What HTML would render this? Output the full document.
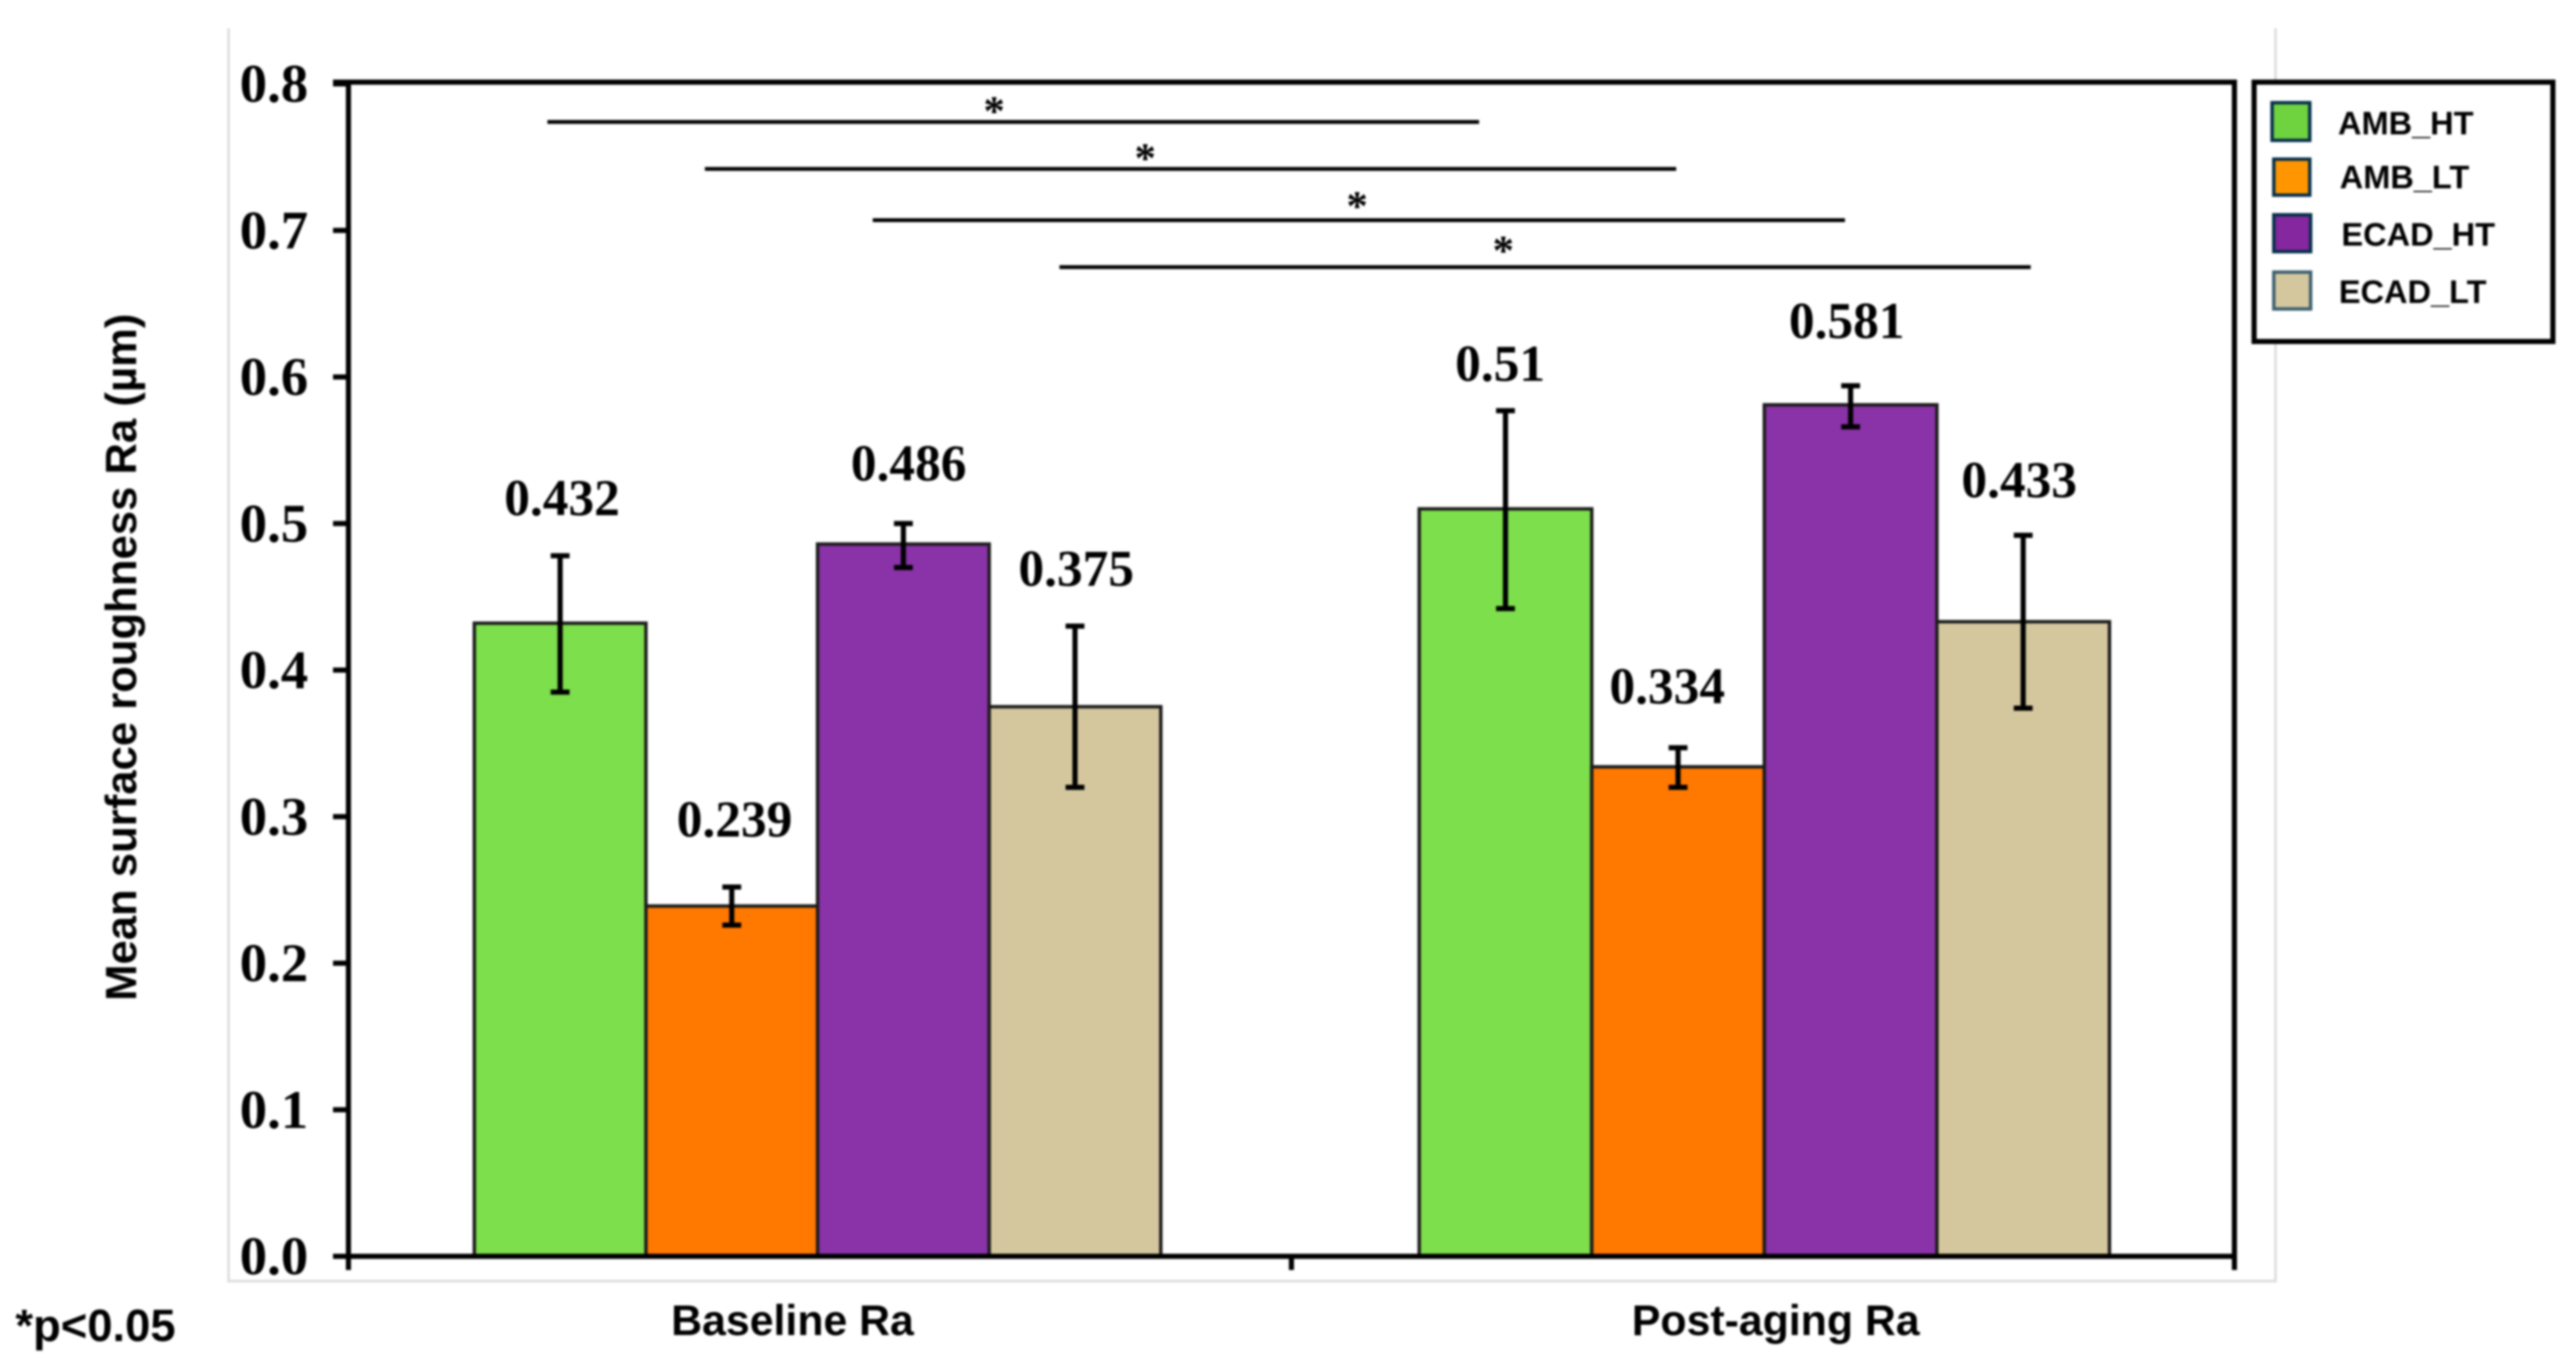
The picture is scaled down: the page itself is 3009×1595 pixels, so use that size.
<!DOCTYPE html>
<html>
<head>
<meta charset="utf-8">
<title>Mean surface roughness</title>
<style>
html,body{margin:0;padding:0;background:#fff;width:3009px;height:1595px;overflow:hidden}
svg{display:block;filter:blur(1.2px)}
</style>
</head>
<body>
<svg id="chart" xmlns="http://www.w3.org/2000/svg" width="3009" height="1595" viewBox="0 0 3009 1595">
  <rect x="0" y="0" width="3009" height="1595" fill="#ffffff"/>
  <path d="M267 33V1497H2658V33" fill="none" stroke="#dcdcdc" stroke-width="3"/>
  <g id="marks"></g>
  <text transform="translate(159,768) rotate(-90)" text-anchor="middle" font-family="Liberation Sans, sans-serif" font-weight="700" font-size="51" fill="#000">Mean surface roughness Ra (µm)</text>
  <text x="18" y="1567" font-family="Liberation Sans, sans-serif" font-weight="700" font-size="53" fill="#000">*p&lt;0.05</text>
  <g>
    <rect x="2633" y="96" width="349" height="303" fill="#fff" stroke="#000" stroke-width="6"/>
    <rect x="2654" y="120" width="44" height="44" fill="#6FD23F" stroke="#06304a" stroke-width="4"/>
    <text x="2731" y="157" font-family="Liberation Sans, sans-serif" font-weight="700" font-size="38" fill="#000">AMB_HT</text>
    <rect x="2656" y="186" width="42" height="42" fill="#FF9500" stroke="#06304a" stroke-width="4"/>
    <text x="2733" y="220" font-family="Liberation Sans, sans-serif" font-weight="700" font-size="38" fill="#000">AMB_LT</text>
    <rect x="2656" y="251" width="43" height="43" fill="#85279F" stroke="#06304a" stroke-width="4"/>
    <text x="2735" y="287" font-family="Liberation Sans, sans-serif" font-weight="700" font-size="38" fill="#000">ECAD_HT</text>
    <rect x="2656" y="318" width="43" height="43" fill="#D4C79E" stroke="#3f6070" stroke-width="4"/>
    <text x="2732" y="354" font-family="Liberation Sans, sans-serif" font-weight="700" font-size="38" fill="#000">ECAD_LT</text>
  </g>
</svg>
<script>
const categories = ['Baseline Ra', 'Post-aging Ra'];
const seriesNames = ['AMB_HT', 'AMB_LT', 'ECAD_HT', 'ECAD_LT'];
const ambHt = [0.432, 0.51];
const ambLt = [0.239, 0.334];
const ecadHt = [0.486, 0.581];
const ecadLt = [0.375, 0.433];
const ambHtErrTop = [0.478, 0.577];
const ambHtErrBottom = [0.385, 0.442];
const ambLtErrTop = [0.252, 0.347];
const ambLtErrBottom = [0.226, 0.320];
const ecadHtErrTop = [0.500, 0.594];
const ecadHtErrBottom = [0.470, 0.566];
const ecadLtErrTop = [0.430, 0.492];
const ecadLtErrBottom = [0.320, 0.374];
const valueLabels = [['0.432', '0.51'], ['0.239', '0.334'], ['0.486', '0.581'], ['0.375', '0.433']];
const labelLevels = [[0.5057, 0.5975], [0.2864, 0.3771], [0.5292, 0.6266], [0.4576, 0.518]];
const labelAnchors = [[0.2265, 1.2213], [0.4094, 1.3986], [0.5941, 1.5889], [0.7718, 1.7718]];
const yTicks = ['0.0', '0.1', '0.2', '0.3', '0.4', '0.5', '0.6', '0.7', '0.8'];
const sigLevels = [0.774, 0.742, 0.707, 0.675];
const sigStarts = [0.211, 0.378, 0.556, 0.754];
const sigEnds = [1.199, 1.408, 1.587, 1.784];
const sigStarMid = [0.6847, 0.845, 1.0697, 1.2247];
const sigStarLevels = [0.783, 0.751, 0.7183, 0.688];

const seriesValues = [ambHt, ambLt, ecadHt, ecadLt];
const seriesTops = [ambHtErrTop, ambLtErrTop, ecadHtErrTop, ecadLtErrTop];
const seriesBottoms = [ambHtErrBottom, ambLtErrBottom, ecadHtErrBottom, ecadLtErrBottom];
const barFills = ['#7DDF4C', '#FF7800', '#8A32A8', '#D4C79E'];
const categoryLabelShift = [-32, 15];
const groupCenters = [0.4975, 1.5015];
const groupBarUnits = [0.182, 0.183];

const plotLeft = 407, plotRight = 2610, plotTop = 98, plotBottom = 1468, frameTop = 96;
const yScale = v => plotBottom - v * (plotBottom - plotTop) / 0.8;
const xScale = u => plotLeft + u * (plotRight - plotLeft) / 2;
const NS = 'http://www.w3.org/2000/svg';
const marks = document.getElementById('marks');

function make(tag, attrs, text) {
  const el = document.createElementNS(NS, tag);
  for (const k in attrs) el.setAttribute(k, attrs[k]);
  if (text !== undefined) el.textContent = text;
  marks.appendChild(el);
  return el;
}
const serif = 'Liberation Serif, serif';
const sans = 'Liberation Sans, sans-serif';

categories.forEach((cat, c) => {
  const barUnits = groupBarUnits[c];
  seriesNames.forEach((name, s) => {
    const left = xScale(groupCenters[c] + (s - 2) * barUnits);
    const width = xScale(barUnits) - xScale(0);
    const val = seriesValues[s][c];
    const bar = make('rect', {x: left, y: yScale(val), width: width, height: yScale(0) - yScale(val), fill: barFills[s], stroke: '#1c1c1c', 'stroke-width': 4});
    
    
  });
});

categories.forEach((cat, c) => {
  const barUnits = groupBarUnits[c];
  seriesNames.forEach((name, s) => {
    const cx = xScale(groupCenters[c] + (s - 1.5) * barUnits);
    const t = yScale(seriesTops[s][c]);
    const b = yScale(seriesBottoms[s][c]);
    const err = make('path', {d: 'M' + cx + ' ' + t + 'V' + b + 'M' + (cx - 11) + ' ' + t + 'H' + (cx + 11) + 'M' + (cx - 11) + ' ' + b + 'H' + (cx + 11), fill: 'none', stroke: '#000', 'stroke-width': 6});
    
    
    const label = make('text', {x: xScale(labelAnchors[s][c]), y: yScale(labelLevels[s][c]), 'text-anchor': 'middle', 'font-family': serif, 'font-weight': 700, 'font-size': 60, fill: '#000'}, valueLabels[s][c]);
    
    
  });
});

const axes = make('path', {d: 'M' + (plotLeft - 18) + ' ' + frameTop + 'H' + plotRight + 'V' + (plotBottom + 16) + 'M' + plotLeft + ' ' + frameTop + 'V' + (plotBottom + 16) + 'M' + (plotLeft - 18) + ' ' + plotBottom + 'H' + plotRight + 'M' + xScale(1) + ' ' + plotBottom + 'V' + (plotBottom + 16), fill: 'none', stroke: '#000', 'stroke-width': 6});



yTicks.forEach(tick => {
  const y = yScale(parseFloat(tick));
  const line = make('line', {x1: plotLeft - 18, x2: plotLeft, y1: y, y2: y, stroke: '#000', 'stroke-width': 6});
  
  
  const label = make('text', {x: 360, y: y + 21, 'text-anchor': 'end', 'font-family': serif, 'font-weight': 700, 'font-size': 64, fill: '#000'}, tick);
  
  
});

categories.forEach((cat, c) => {
  const label = make('text', {x: xScale(c + 0.5) + categoryLabelShift[c], y: 1560, 'text-anchor': 'middle', 'font-family': sans, 'font-weight': 700, 'font-size': 50, fill: '#000'}, cat);
  
  
});

sigLevels.forEach((lvl, i) => {
  const y = yScale(lvl);
  const line = make('line', {x1: xScale(sigStarts[i]), x2: xScale(sigEnds[i]), y1: y, y2: y, stroke: '#000', 'stroke-width': 4.5});
  
  
  const star = make('text', {x: xScale(sigStarMid[i]), y: yScale(sigStarLevels[i]) + 19, 'text-anchor': 'middle', 'font-family': serif, 'font-weight': 700, 'font-size': 50, fill: '#000'}, '*');
  
  
});
</script>
</body>
</html>
